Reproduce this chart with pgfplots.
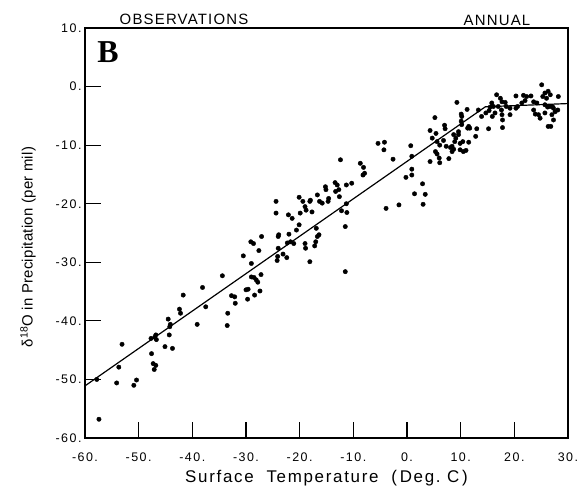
\documentclass[border=0pt]{standalone}
\usepackage{pgfplots}
\pgfplotsset{compat=1.18}
\usepackage{fontspec}
\setmainfont{Liberation Sans}
\newfontfamily\serifbold{Liberation Serif}

% observed annual means (temperature, delta 18O)
\pgfplotstableread{
T d
-57.4 -56.8
-57.8 -50.0
-54.1 -50.6
-50.9 -51.0
-50.4 -50.1
-53.7 -47.9
-53.1 -44.0
-47.6 -45.6
-47.3 -47.3
-46.8 -47.6
-47.1 -48.3
-47.7 -43.0
-47.0 -42.8
-46.7 -43.2
-46.8 -42.4
-45.1 -44.4
-43.7 -44.7
-44.3 -42.4
-44.5 -39.7
-44.1 -40.6
-44.2 -41.0
-42.4 -38.0
-42.2 -38.7
-41.7 -35.6
-39.1 -40.6
-38.1 -34.3
-37.5 -37.6
-33.4 -38.7
-33.5 -40.8
-34.4 -32.3
-32.0 -37.0
-32.7 -35.7
-32.1 -35.9
-29.7 -36.3
-30.0 -34.7
-29.6 -34.6
-28.4 -35.6
-27.4 -34.9
-29.0 -32.5
-28.5 -32.6
-28.1 -33.0
-27.8 -33.4
-27.2 -32.1
-29.0 -30.2
-30.5 -28.9
-29.1 -26.5
-28.6 -26.8
-27.6 -28.0
-27.1 -25.6
-24.2 -29.7
-24.1 -29.0
-24.0 -27.6
-23.1 -28.6
-22.4 -29.2
-24.0 -25.6
-23.9 -25.3
-24.4 -21.6
-24.4 -19.6
-22.1 -21.9
-21.4 -22.5
-22.0 -25.2
-22.3 -26.7
-21.7 -26.5
-20.6 -24.5
-20.1 -23.6
-19.9 -21.6
-19.4 -19.6
-19.0 -20.5
-18.8 -21.1
-17.7 -21.4
-18.1 -19.6
-21.1 -26.8
-19.0 -26.8
-18.9 -27.6
-18.1 -29.9
-17.0 -26.5
-16.7 -25.6
-16.9 -24.2
-16.4 -25.3
-17.2 -27.2
-20.1 -18.9
-18.0 -19.4
-16.7 -18.5
-16.3 -19.6
-15.8 -19.9
-15.2 -17.1
-15.1 -17.6
-14.6 -19.1
-14.7 -19.6
-13.4 -16.4
-13.0 -16.8
-13.3 -17.9
-12.7 -17.6
-12.6 -18.8
-11.3 -16.8
-10.3 -16.5
-12.4 -12.5
-12.2 -21.2
-11.2 -21.5
-11.5 -23.9
-11.3 -20.0
-11.5 -31.6
-8.7 -13.1
-8.1 -13.8
-7.9 -14.8
-8.2 -15.1
-5.4 -9.7
-4.2 -9.5
-4.3 -10.8
-2.6 -12.4
-3.9 -20.8
-1.5 -20.2
0.7 -10.1
0.9 -11.9
0.9 -14.1
0.9 -15.1
-0.2 -15.5
1.4 -18.3
2.9 -16.6
3.4 -18.4
3.0 -20.1
4.3 -12.8
5.2 -5.3
4.3 -7.5
4.7 -8.8
5.4 -8.0
5.3 -11.1
5.6 -11.5
6.0 -12.2
6.1 -13.0
6.1 -10.0
5.6 -9.4
7.0 -6.6
7.1 -7.2
6.8 -9.2
7.3 -10.2
8.1 -10.4
8.4 -10.2
8.7 -10.7
7.8 -12.3
8.4 -11.1
8.7 -8.2
9.1 -8.8
8.9 -9.4
9.6 -8.2
9.9 -9.7
9.9 -10.8
10.4 -9.4
10.5 -11.1
9.6 -7.7
9.3 -2.7
10.1 -4.7
10.2 -5.1
10.1 -5.9
10.2 -6.5
11.2 -3.9
11.3 -7.1
11.7 -7.1
11.5 -6.8
11.5 -9.5
11.0 -10.9
13.0 -7.2
12.8 -8.5
13.3 -4.0
13.9 -5.1
15.2 -7.2
14.7 -4.5
15.3 -4.1
15.5 -3.5
15.8 -2.8
15.9 -5.1
16.1 -3.4
16.4 -4.5
16.7 -1.4
17.0 -3.4
17.4 -2.0
17.7 -2.6
17.6 -4.0
17.7 -4.8
17.8 -5.7
17.8 -7.0
18.3 -2.7
18.5 -3.4
19.2 -3.7
19.2 -4.8
20.3 -1.6
20.3 -3.7
20.6 -3.4
21.4 -2.8
21.7 -1.5
22.0 -2.4
22.3 -1.7
23.1 -1.6
23.6 -2.6
23.6 -4.0
23.9 -4.7
24.2 -2.8
24.5 -4.8
24.8 -5.4
25.1 0.3
25.3 -1.7
25.7 -1.1
25.7 -3.1
25.7 -4.5
26.0 -2.0
26.2 -3.5
26.3 -0.8
26.3 -6.8
26.7 -1.4
26.7 -3.4
26.8 -6.8
27.0 -4.8
27.1 -3.4
27.3 -3.7
27.3 -5.7
27.6 -4.3
28.1 -4.0
28.2 -1.7
}\obs

\begin{document}
\begin{tikzpicture}
\begin{axis}[
    at={(85bp,51bp)}, anchor=south west,
    scale only axis, width=483bp, height=410bp,
    xmin=-60, xmax=30, ymin=-60, ymax=10,
    xtick={-60,-50,...,30}, ytick={-60,-50,...,10},
    xticklabels={-60.,-50.,-40.,-30.,-20.,-10.,0.,10.,20.,30.},
    yticklabels={-60.,-50.,-40.,-30.,-20.,-10.,0.,10.},
    tick align=inside,
    xtick pos=bottom, ytick pos=left,
    major tick length=16bp,
    major tick style={draw=black, line width=1.1pt},
    axis line style={line width=1.3pt},
    tick label style={font=\fontsize{12.5}{13}\selectfont\addfontfeature{LetterSpace=12}},
    xticklabel style={yshift=-11bp},
    xlabel={Surface \ Temperature \ (\,Deg.\ C\,)},
    xlabel style={at={(axis description cs:0.5,-0.098)}, anchor=center,
        font=\fontsize{17}{18}\selectfont\addfontfeature{LetterSpace=10}},
    ylabel={δ\textsuperscript{18}O in Precipitation (per mil)},
    ylabel style={at={(axis description cs:-0.118,0.466)}, anchor=center,
        font=\fontsize{15}{17}\selectfont\addfontfeature{LetterSpace=2}},
]
\addplot[only marks, mark=*, mark size=2.2bp, black] table[x=T, y=d] {\obs};
\addplot[black, line width=1.2pt] coordinates {(-60,-51.1) (14.6,-3.45) (30,-2.9)};
% inward tick marks along the bottom and left edges
\pgfplotsinvokeforeach{-50,-40,...,20}{
    \draw[black, line width=1.1pt] (axis cs:#1,-60) -- ++(0pt,16bp);
}
\pgfplotsinvokeforeach{-50,-40,...,0}{
    \draw[black, line width=1.1pt] (axis cs:-60,#1) -- ++(16bp,0pt);
}
\end{axis}
\node[font=\fontsize{15}{16}\selectfont\addfontfeature{LetterSpace=8}] at (184bp,470bp) {OBSERVATIONS};
\node[font=\fontsize{15}{16}\selectfont\addfontfeature{LetterSpace=8}] at (497bp,469bp) {ANNUAL};
\node[font=\serifbold\bfseries\fontsize{32}{32}\selectfont] at (108bp,437bp) {B};
\path (0,0) rectangle (587bp,489bp);
\end{tikzpicture}
\end{document}
